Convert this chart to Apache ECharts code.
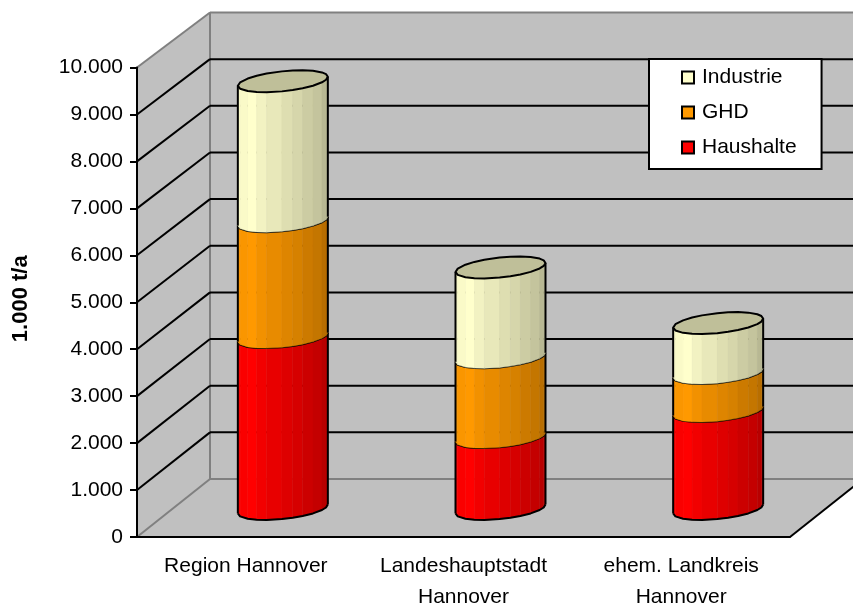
<!DOCTYPE html>
<html><head><meta charset="utf-8">
<style>html,body{margin:0;padding:0;background:#fff}#c{width:853px;height:605px}</style>
<script src="https://cdn.jsdelivr.net/npm/echarts@6/dist/echarts.min.js"></script>
</head><body><div id="c"></div>
<script>
const categories = ['Region Hannover', 'Landeshauptstadt\nHannover', 'ehem. Landkreis\nHannover'];
const haushalte = [3660, 1530, 2085];
const ghd = [2470, 1700, 810];
const industrie = [2980, 1915, 1065];
const yTicks = [0,1000,2000,3000,4000,5000,6000,7000,8000,9000,10000];

const DEPTH_X = 73, DEPTH_Y = 58, BACK_SCALE = 467/470;
const BAR_SHIFT_X = 37, BAR_LIFT = 28;
const BAR_RATIO = 90/217.67, TILT = -4.5, CAP_H = 10, LW = 2;
const FACETS = [-1,-0.95,-0.78,-0.58,-0.36,-0.02,0.22,0.44,0.67,0.87,0.96,1];
const SHADES = [0.98,0.98,1,0.95,0.91,0.87,0.84,0.80,0.77,0.72,0.72];
const FONT = '"Liberation Sans", Arial, sans-serif';

function shade(rgb, f){ return 'rgb(' + rgb.map(v=>Math.round(v*f)).join(',') + ')'; }

function wallRender(params, api){
  const s = params.coordSys, L = s.x, R = s.x+s.width, T = s.y, B = s.y+s.height;
  const bx = L+DEPTH_X, by = B-DEPTH_Y, rx = R+DEPTH_X, ty = by-(B-T)*BACK_SCALE;
  const fill = {fill:'#C0C0C0', stroke:'none'};
  const grey = {stroke:'#808080', lineWidth:LW, fill:'none'};
  const poly = (pts, style)=>({type:'polygon', shape:{points:pts}, style});
  const line = (a,b,style)=>({type:'line', shape:{x1:a[0],y1:a[1],x2:b[0],y2:b[1]}, style});
  return {type:'group', children:[
    poly([[L,T],[bx,ty],[rx,ty],[rx,by],[R,B],[L,B]], fill),
    line([L,T],[bx,ty],grey), line([bx,ty],[rx,ty],grey), line([bx,ty],[bx,by],grey),
    line([bx,by],[rx,by],grey), line([L,B],[bx,by],grey),
    line([R,B],[rx,by],{stroke:'#000',lineWidth:LW})
  ]};
}

function gridRender(params, api){
  const v = api.value(0);
  const s = params.coordSys, L = s.x, R = s.x+s.width, B = s.y+s.height;
  const y = api.coord([0, v])[1];
  const by = B-DEPTH_Y-(B-y)*BACK_SCALE, bx = L+DEPTH_X;
  const st = {stroke:'#000', lineWidth:LW};
  return {type:'group', children:[
    {type:'line', shape:{x1:L,y1:y,x2:bx,y2:by}, style:st},
    {type:'line', shape:{x1:bx,y1:by,x2:R+DEPTH_X,y2:by}, style:st}
  ]};
}

function barRender(rgb, isBottom, isTop){
  return function(params, api){
    const cat = api.value(0), lo = api.value(1), hi = api.value(2);
    const w = api.size([1,0])[0]*BAR_RATIO/2;
    const p0 = api.coord([cat, lo]), p1 = api.coord([cat, hi]);
    const cx = p0[0]+BAR_SHIFT_X, y0 = p0[1]-BAR_LIFT, y1 = p1[1]-BAR_LIFT;
    const front = (c, yc)=>[cx+c*w, yc+TILT*c+CAP_H*Math.sqrt(Math.max(0,1-c*c))];
    const back  = (c, yc)=>[cx+c*w, yc+TILT*c-CAP_H*Math.sqrt(Math.max(0,1-c*c))];
    const ch = [];
    for(let i=0;i<SHADES.length;i++){
      const col = shade(rgb, SHADES[i]);
      ch.push({type:'polygon', shape:{points:[front(FACETS[i],y0),front(FACETS[i+1],y0),front(FACETS[i+1],y1),front(FACETS[i],y1)]},
        style:{fill:col, stroke:col, lineWidth:0.5}});
    }
    const edge = {stroke:'#000', lineWidth:LW, fill:'none', lineJoin:'round'};
    const topPts = FACETS.map(c=>front(c,y1));
    const botPts = FACETS.map(c=>front(c,y0));
    if(isTop){
      const backPts = FACETS.slice().reverse().slice(1,-1).map(c=>back(c,y1));
      ch.push({type:'polygon', shape:{points:topPts.concat(backPts)}, style:{fill:shade(rgb,0.75), stroke:'#000', lineWidth:LW, lineJoin:'round'}});
    } else {
      ch.push({type:'polyline', shape:{points:topPts}, style:edge});
    }
    if(isBottom) ch.push({type:'polyline', shape:{points:botPts}, style:edge});
    ch.push({type:'line', shape:{x1:topPts[0][0],y1:topPts[0][1],x2:botPts[0][0],y2:botPts[0][1]}, style:edge});
    const n = topPts.length-1;
    ch.push({type:'line', shape:{x1:topPts[n][0],y1:topPts[n][1],x2:botPts[n][0],y2:botPts[n][1]}, style:edge});
    return {type:'group', children:ch};
  };
}

function stack(lowers, vals){
  return vals.map((v,i)=>{ const b = lowers.reduce((a,arr)=>a+arr[i],0); return [i,b,b+v]; });
}

const chart = echarts.init(document.getElementById('c'), null, {renderer:'canvas'});
chart.setOption({
  animation:false,
  backgroundColor:'#fff',
  textStyle:{fontFamily:FONT},
  grid:{left:137, top:67.5, width:653, height:469.5, containLabel:false, outerBoundsMode:'none'},
  legend:{
    data:['Industrie','GHD','Haushalte'], orient:'vertical', left:649, top:59,
    backgroundColor:'#fff', borderColor:'#000', borderWidth:2, borderRadius:0,
    padding:[8,25,11,32], itemWidth:12, itemHeight:12, itemGap:14, itemStyle:{borderColor:'#000',borderWidth:2},
    icon:'rect', selectedMode:false,
    textStyle:{fontFamily:FONT, fontSize:21, color:'#000', padding:[0,0,0,3], lineHeight:20}, z:20
  },
  xAxis:{type:'category', data:categories, z:10,
    axisLine:{lineStyle:{color:'#000',width:LW}},
    axisTick:{length:8, lineStyle:{color:'#000',width:LW}},
    axisLabel:{fontFamily:FONT, fontSize:21, color:'#000', lineHeight:31, margin:14, interval:0}},
  yAxis:{type:'value', min:0, max:10000, interval:1000, z:10,
    name:'1.000 t/a', nameLocation:'middle', nameGap:105, nameRotate:90,
    nameTextStyle:{fontFamily:FONT, fontSize:22, fontWeight:'bold', color:'#000', padding:[0,0,0,7]},
    axisLine:{show:true, lineStyle:{color:'#000',width:LW}},
    axisTick:{show:true, length:7, lineStyle:{color:'#000',width:LW}},
    splitLine:{show:false},
    axisLabel:{fontFamily:FONT, fontSize:21, color:'#000', margin:14,
      formatter:v=>String(v).replace(/\B(?=(\d{3})+$)/g,'.')}},
  series:[
    {type:'custom', name:'walls', z:1, silent:true, renderItem:wallRender, data:[[0]], coordinateSystem:'cartesian2d', encode:{x:0,y:0}},
    {type:'custom', name:'grid', z:2, silent:true, renderItem:gridRender, data:yTicks.slice(1,-1).map(v=>[v]), encode:{y:0}},
    {type:'custom', name:'Haushalte', z:3, itemStyle:{color:'#FF0000'}, renderItem:barRender([255,0,0],true,false), data:stack([],haushalte), encode:{x:0,y:2}},
    {type:'custom', name:'GHD', z:4, itemStyle:{color:'#FF9900'}, renderItem:barRender([255,153,0],false,false), data:stack([haushalte],ghd), encode:{x:0,y:2}},
    {type:'custom', name:'Industrie', z:5, itemStyle:{color:'#FFFFCC'}, renderItem:barRender([255,255,204],false,true), data:stack([haushalte,ghd],industrie), encode:{x:0,y:2}}
  ]
});
</script></body></html>
